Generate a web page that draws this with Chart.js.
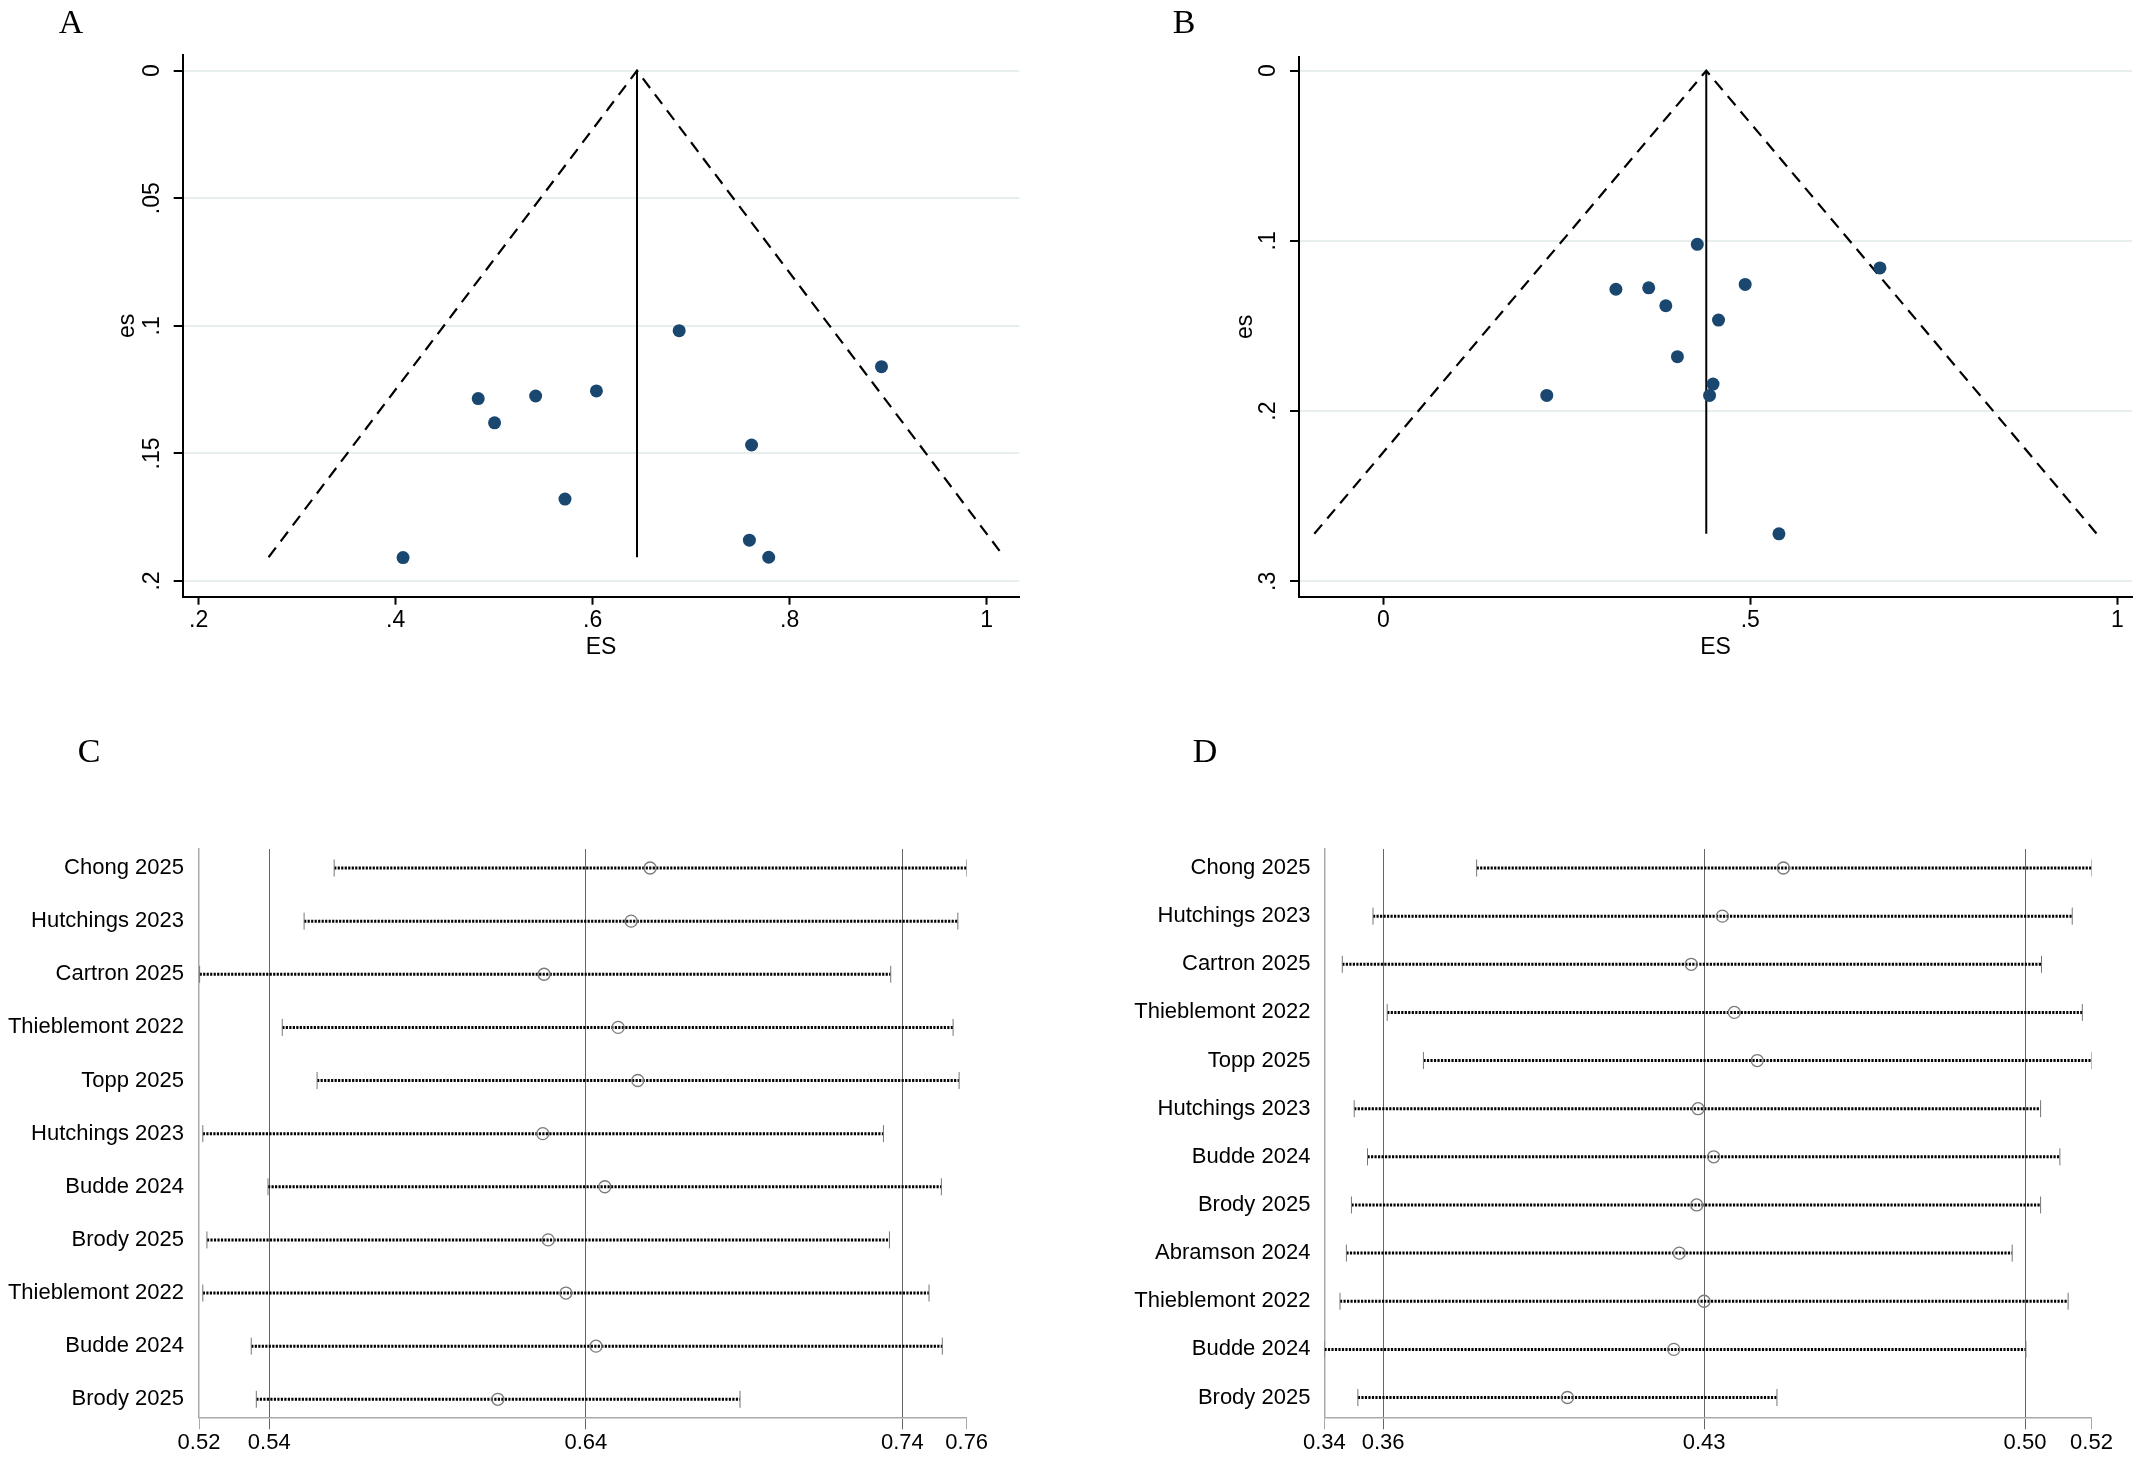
<!DOCTYPE html>
<html>
<head>
<meta charset="utf-8">
<title>Funnel and sensitivity plots</title>
<script src="https://cdn.jsdelivr.net/npm/chart.js@4.4.1/dist/chart.umd.min.js"></script>
<style>
  html, body { margin: 0; padding: 0; background: #fff; }
  body { width: 2142px; height: 1460px; position: relative; overflow: hidden; }
  canvas { position: absolute; }
  .tag { position: absolute; z-index: 2; font-family: "Liberation Serif", "Times New Roman", serif;
         font-size: 34px; line-height: 34px; color: #000; transform: translate(-50%, -50%); }
</style>
</head>
<body>
<canvas id="chartA" width="1071" height="700" style="left:0;top:0"></canvas>
<canvas id="chartB" width="1071" height="700" style="left:1071px;top:0"></canvas>
<canvas id="chartC" width="1071" height="740" style="left:0;top:720px"></canvas>
<canvas id="chartD" width="1071" height="740" style="left:1071px;top:720px"></canvas>
<div class="tag" style="left:71px;top:22px">A</div>
<div class="tag" style="left:1184px;top:22px">B</div>
<div class="tag" style="left:89px;top:751px">C</div>
<div class="tag" style="left:1205px;top:751px">D</div>
<script>
// ---- Panel A: funnel plot (effect size vs standard error) ----
const effA = [0.6878, 0.8932, 0.4838, 0.5421, 0.6038, 0.5004, 0.7613, 0.5719, 0.7591, 0.7787, 0.4075];
const seA  = [0.1019, 0.1160, 0.1285, 0.1275, 0.1255, 0.1380, 0.1467, 0.1679, 0.1840, 0.1907, 0.1908];
const pooledA = [0.645, 0.645];
const pooledSeA = [0, 0.1907];
const funnelA = [0.271, 0.645, 1.018];
const funnelSeA = [0.1907, 0, 0.1907];
const xTicksA = [0.2, 0.4, 0.6, 0.8, 1];
const xLabelsA = ['.2', '.4', '.6', '.8', '1'];
const yTicksA = [0, 0.05, 0.1, 0.15, 0.2];
const yLabelsA = ['0', '.05', '.1', '.15', '.2'];

// ---- Panel B: funnel plot ----
const effB = [0.4278, 0.6766, 0.3169, 0.3616, 0.4930, 0.3849, 0.4567, 0.4007, 0.4492, 0.4445, 0.2227, 0.5390];
const seB  = [0.1020, 0.1159, 0.1284, 0.1276, 0.1256, 0.1381, 0.1465, 0.1680, 0.1841, 0.1908, 0.1908, 0.2721];
const pooledB = [0.440, 0.440];
const pooledSeB = [0, 0.2721];
const funnelB = [-0.094, 0.440, 0.972];
const funnelSeB = [0.2721, 0, 0.2721];
const xTicksB = [0, 0.5, 1];
const xLabelsB = ['0', '.5', '1'];
const yTicksB = [0, 0.1, 0.2, 0.3];
const yLabelsB = ['0', '.1', '.2', '.3'];

// ---- Panel C: leave-one-out estimates with CI ----
const studiesC = ['Chong 2025', 'Hutchings 2023', 'Cartron 2025', 'Thieblemont 2022', 'Topp 2025',
  'Hutchings 2023', 'Budde 2024', 'Brody 2025', 'Thieblemont 2022', 'Budde 2024', 'Brody 2025'];
const estC  = [0.6603, 0.6543, 0.6268, 0.6502, 0.6564, 0.6264, 0.6460, 0.6281, 0.6337, 0.6432, 0.6122];
const lowC  = [0.5605, 0.5510, 0.5180, 0.5441, 0.5551, 0.5190, 0.5396, 0.5203, 0.5190, 0.5343, 0.5359];
const highC = [0.7603, 0.7575, 0.7363, 0.7560, 0.7579, 0.7340, 0.7523, 0.7359, 0.7484, 0.7526, 0.6887];
const xTicksC = [0.5178, 0.54, 0.64, 0.74, 0.7603];
const xLabelsC = ['0.52', '0.54', '0.64', '0.74', '0.76'];

// ---- Panel D: leave-one-out estimates with CI ----
const studiesD = ['Chong 2025', 'Hutchings 2023', 'Cartron 2025', 'Thieblemont 2022', 'Topp 2025',
  'Hutchings 2023', 'Budde 2024', 'Brody 2025', 'Abramson 2024', 'Thieblemont 2022', 'Budde 2024', 'Brody 2025'];
const estD  = [0.4473, 0.4340, 0.4272, 0.4366, 0.4416, 0.4287, 0.4321, 0.4284, 0.4246, 0.4300, 0.4234, 0.4002];
const lowD  = [0.3804, 0.3578, 0.3511, 0.3609, 0.3688, 0.3537, 0.3566, 0.3531, 0.3520, 0.3506, 0.3472, 0.3545];
const highD = [0.5145, 0.5103, 0.5036, 0.5125, 0.5145, 0.5034, 0.5076, 0.5034, 0.4972, 0.5094, 0.5002, 0.4459];
const xTicksD = [0.3472, 0.36, 0.43, 0.50, 0.5145];
const xLabelsD = ['0.34', '0.36', '0.43', '0.50', '0.52'];

const FONT = '"Liberation Sans", Arial, Helvetica, sans-serif';
Chart.defaults.font.family = FONT;
Chart.defaults.color = '#000';

const pts = (xs, ys) => xs.map((x, i) => ({ x: x, y: ys[i] }));

// y tick labels of the funnel plots are written sideways (Stata style)
const rotYTicks = {
  id: 'rotYTicks',
  afterDraw(chart, args, opts) {
    const s = chart.scales.y, ctx = chart.ctx;
    ctx.save();
    ctx.fillStyle = '#000';
    ctx.font = opts.size + 'px ' + FONT;
    ctx.textAlign = 'center';
    ctx.textBaseline = 'middle';
    s.ticks.forEach((t, i) => {
      ctx.save();
      ctx.translate(s.right - opts.offset, s.getPixelForValue(t.value));
      ctx.rotate(-Math.PI / 2);
      ctx.fillText(opts.labels[i], 0, 0);
      ctx.restore();
    });
    ctx.restore();
  }
};

function funnel(id, d) {
  return new Chart(document.getElementById(id), {
    type: 'scatter',
    data: {
      datasets: [
        { data: pts(d.eff, d.se), pointRadius: 6.5, pointBackgroundColor: '#1a476f', pointBorderWidth: 0 },
        { data: pts(d.pooled, d.pooledSe), showLine: true, borderColor: '#000', borderWidth: 2, pointRadius: 0 },
        { data: pts(d.funnel, d.funnelSe), showLine: true, borderColor: '#000', borderWidth: 2.2,
          borderDash: [12, 8], pointRadius: 0 }
      ]
    },
    options: {
      responsive: false, animation: false, events: [],
      layout: { padding: d.pad },
      plugins: {
        legend: { display: false }, tooltip: { enabled: false },
        rotYTicks: { labels: d.yLabels, offset: 30, size: 23 }
      },
      scales: {
        x: {
          type: 'linear', min: d.xMin, max: d.xMax,
          afterBuildTicks: s => { s.ticks = d.xTicks.map(v => ({ value: v })); },
          afterFit: s => { s.height = d.xH; },
          grid: { drawOnChartArea: false, tickLength: 8, tickColor: '#000', tickWidth: 2 },
          border: { color: '#000', width: 2 },
          ticks: { font: { size: 23 }, color: '#000', padding: 2, maxRotation: 0, autoSkip: false,
                   callback: (v, i) => d.xLabels[i] },
          title: { display: true, text: 'ES', font: { size: 23 }, color: '#000',
                   padding: { top: 0, bottom: d.xTitlePad } }
        },
        y: {
          type: 'linear', reverse: true, min: d.yMin, max: d.yMax,
          afterBuildTicks: s => { s.ticks = d.yTicks.map(v => ({ value: v })); },
          afterFit: s => { s.width = d.yW; },
          grid: { color: '#e7eeee', lineWidth: 2, tickLength: 9, tickColor: '#000', tickWidth: 2 },
          border: { color: '#000', width: 2 },
          ticks: { display: false },
          title: { display: true, text: 'es', font: { size: 23 }, color: '#000',
                   padding: { top: d.yTitlePad, bottom: 0 } }
        }
      }
    },
    plugins: [rotYTicks]
  });
}

function forest(id, d) {
  const rows = d.names.map((_, i) => i + 1);
  const last = d.xTicks.length - 1;
  const ciSets = rows.map((r, i) => ({
    data: [{ x: d.low[i], y: r }, { x: d.high[i], y: r }],
    showLine: true, borderColor: '#000', borderWidth: 3, borderDash: [2.2, 1.3],
    pointStyle: 'line', pointRotation: 90, pointRadius: 8.5,
    pointBorderColor: '#777', pointBorderWidth: 1
  }));
  return new Chart(document.getElementById(id), {
    type: 'scatter',
    data: {
      datasets: [
        { data: pts(d.est, rows), pointRadius: 6, pointBackgroundColor: 'rgba(0,0,0,0)',
          pointBorderColor: '#7a7a7a', pointBorderWidth: 1.3 }
      ].concat(ciSets)
    },
    options: {
      responsive: false, animation: false, events: [],
      layout: { padding: d.pad },
      plugins: { legend: { display: false }, tooltip: { enabled: false } },
      scales: {
        x: {
          type: 'linear', min: d.xTicks[0], max: d.xTicks[last],
          afterBuildTicks: s => { s.ticks = d.xTicks.map(v => ({ value: v })); },
          afterFit: s => { s.height = d.xH; },
          grid: {
            color: c => (c.index === 0 || c.index === last) ? 'rgba(0,0,0,0)' : '#666',
            tickColor: c => (c.index === 0 || c.index === last) ? '#aaa' : '#666',
            lineWidth: 1, tickLength: 12
          },
          border: { color: '#aaa', width: 1.5 },
          ticks: { font: { size: 22 }, color: '#000', padding: 0, maxRotation: 0, autoSkip: false,
                   callback: (v, i) => d.xLabels[i] }
        },
        y: {
          type: 'linear', reverse: true, min: d.yMin, max: d.yMax,
          afterBuildTicks: s => { s.ticks = rows.map(v => ({ value: v })); },
          afterFit: s => { s.width = d.yW; },
          grid: { display: false, drawTicks: false },
          border: { color: '#aaa', width: 1.5 },
          ticks: { font: { size: 22 }, color: '#000', padding: d.labelPad, autoSkip: false,
                   callback: (v, i) => d.names[i] }
        }
      }
    }
  });
}

funnel('chartA', {
  eff: effA, se: seA, pooled: pooledA, pooledSe: pooledSeA, funnel: funnelA, funnelSe: funnelSeA,
  xTicks: xTicksA, xLabels: xLabelsA, yTicks: yTicksA, yLabels: yLabelsA,
  xMin: 0.1838, xMax: 1.0331, yMin: -0.00615, yMax: 0.20615,
  pad: { left: 0, top: 55, right: 51.7, bottom: 0 }, yW: 182.7, xH: 103.3,
  xTitlePad: 38.2, yTitlePad: 114.2
});

funnel('chartB', {
  eff: effB, se: seB, pooled: pooledB, pooledSe: pooledSeB, funnel: funnelB, funnelSe: funnelSeB,
  xTicks: xTicksB, xLabels: xLabelsB, yTicks: yTicksB, yLabels: yLabelsB,
  xMin: -0.11485, xMax: 1.0200, yMin: -0.00805, yMax: 0.30905,
  pad: { left: 0, top: 57, right: 10, bottom: 0 }, yW: 228, xH: 103.3,
  xTitlePad: 38.2, yTitlePad: 161.2
});

forest('chartC', {
  names: studiesC, est: estC, low: lowC, high: highC, xTicks: xTicksC, xLabels: xLabelsC,
  yMin: 0.6424, yMax: 11.339,
  pad: { left: 0, top: 129, right: 104.3, bottom: 0 }, yW: 199, xH: 42.7, labelPad: 15
});

forest('chartD', {
  names: studiesD, est: estD, low: lowD, high: highD, xTicks: xTicksD, xLabels: xLabelsD,
  yMin: 0.6053, yMax: 12.411,
  pad: { left: 0, top: 129, right: 50.5, bottom: 0 }, yW: 253.4, xH: 42.7, labelPad: 14
});
</script>
</body>
</html>
